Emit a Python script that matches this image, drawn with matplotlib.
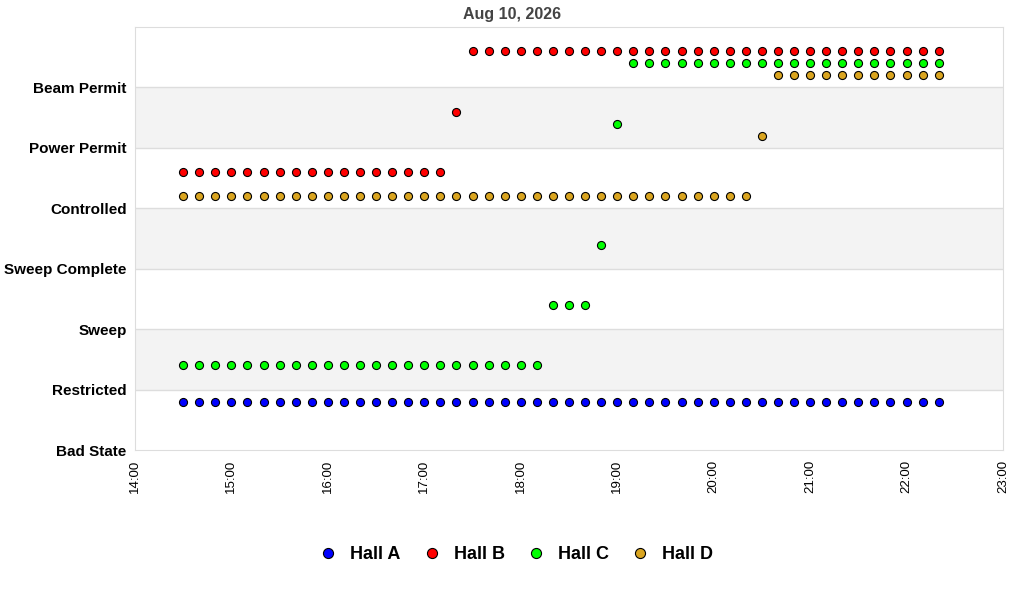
import matplotlib.pyplot as plt
import matplotlib.dates as mdates
import pandas as pd

plt.rcParams['font.family'] = ['Liberation Sans', 'DejaVu Sans']

# state names, bottom to top
states = ['Bad State', 'Restricted', 'Sweep', 'Sweep Complete',
          'Controlled', 'Power Permit', 'Beam Permit']

# samples every 10 minutes, 14:30 .. 22:20
times = pd.date_range('2026-08-10 14:30', '2026-08-10 22:20', freq='10min')

hall_a = [0, 0, 0, 0, 0, 0, 0, 0, 0, 0, 0, 0, 0, 0, 0, 0,
          0, 0, 0, 0, 0, 0, 0, 0, 0, 0, 0, 0, 0, 0, 0, 0,
          0, 0, 0, 0, 0, 0, 0, 0, 0, 0, 0, 0, 0, 0, 0, 0]
hall_b = [4, 4, 4, 4, 4, 4, 4, 4, 4, 4, 4, 4, 4, 4, 4, 4,
          4, 5, 6, 6, 6, 6, 6, 6, 6, 6, 6, 6, 6, 6, 6, 6,
          6, 6, 6, 6, 6, 6, 6, 6, 6, 6, 6, 6, 6, 6, 6, 6]
hall_c = [1, 1, 1, 1, 1, 1, 1, 1, 1, 1, 1, 1, 1, 1, 1, 1,
          1, 1, 1, 1, 1, 1, 1, 2, 2, 2, 3, 5, 6, 6, 6, 6,
          6, 6, 6, 6, 6, 6, 6, 6, 6, 6, 6, 6, 6, 6, 6, 6]
hall_d = [4, 4, 4, 4, 4, 4, 4, 4, 4, 4, 4, 4, 4, 4, 4, 4,
          4, 4, 4, 4, 4, 4, 4, 4, 4, 4, 4, 4, 4, 4, 4, 4,
          4, 4, 4, 4, 5, 6, 6, 6, 6, 6, 6, 6, 6, 6, 6, 6]

halls = ['Hall A', 'Hall B', 'Hall C', 'Hall D']
series = [hall_a, hall_b, hall_c, hall_d]
colors = ['#0000ff', '#ff0000', '#00ff00', '#daa520']
offsets = [0.8, 0.6, 0.4, 0.2]  # vertical spot of each hall inside a band

fig = plt.figure(figsize=(10.24, 6), dpi=100)
ax = fig.add_axes([0.1318, 0.25, 0.8477, 0.705])

# alternating bands
for i in range(len(states)):
    if i % 2 == 1:
        ax.axhspan(i, i + 1, color='#f3f3f3', zorder=0, lw=0)
    if i > 0:
        ax.axhline(i, color='#dddddd', lw=1, zorder=1)

for name, vals, c, off in zip(halls, series, colors, offsets):
    y = [v + off for v in vals]
    ax.plot(times, y, ls='none', marker='o', ms=5.8, mfc=c, mec='black',
            mew=0.8, label=name, zorder=3)

ax.set_ylim(0, 7)
ax.set_yticks(range(len(states)))
ax.set_yticklabels(states, fontsize=11, fontweight='bold')
ax.set_xlim(pd.Timestamp('2026-08-10 14:00'), pd.Timestamp('2026-08-10 23:00'))
ax.xaxis.set_major_locator(mdates.HourLocator())
ax.xaxis.set_major_formatter(mdates.DateFormatter('%H:%M'))
plt.setp(ax.get_xticklabels(), rotation=90, fontsize=9.5)
ax.tick_params(length=0, pad=6)
ax.tick_params(axis='x', pad=7)
for s in ax.spines.values():
    s.set_color('#dddddd')

fig.suptitle('Aug 10, 2026', x=0.5, y=0.988, fontsize=11.5, fontweight='bold',
             color='#444444')
fig.legend(loc='center', bbox_to_anchor=(0.505, 0.076), ncol=4, frameon=False,
           prop={'size': 13, 'weight': 'bold'}, handlelength=0.8,
           handletextpad=0.8, columnspacing=1.35, markerscale=1.25)

fig.savefig('out.png', dpi=100)
